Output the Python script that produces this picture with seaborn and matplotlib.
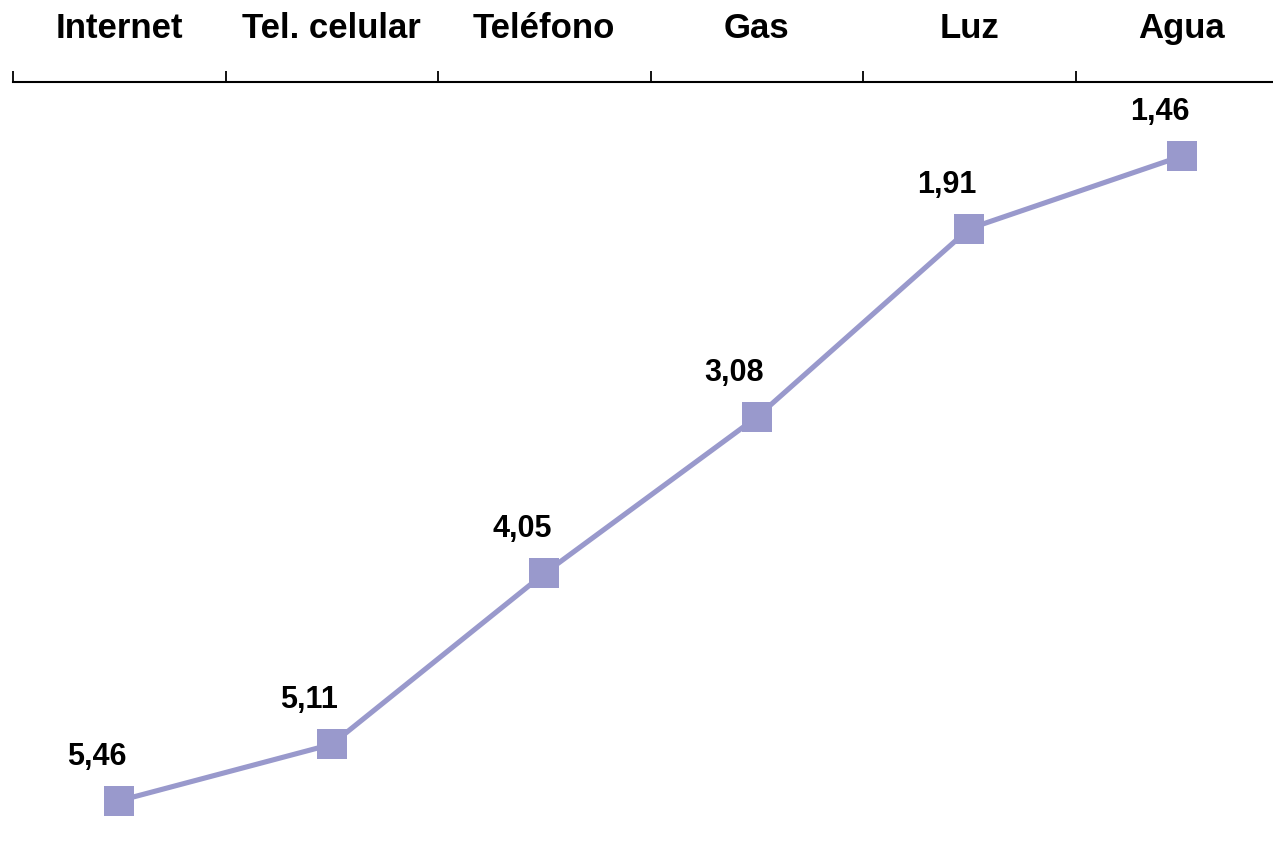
import matplotlib
matplotlib.use("Agg")
import matplotlib.pyplot as plt
import seaborn as sns
import pandas as pd
import numpy as np
from matplotlib.ticker import FixedLocator

categories = ["Internet", "Tel. celular", "Teléfono", "Gas", "Luz", "Agua"]
values = [5.46, 5.11, 4.05, 3.08, 1.91, 1.46]
labels = ["5,46", "5,11", "4,05", "3,08", "1,91", "1,46"]

sns.set_theme(style="white")
plt.rcParams['font.family'] = ['Liberation Sans', 'DejaVu Sans']

df = pd.DataFrame({"cat": categories, "val": values, "x": np.arange(len(categories))})

fig = plt.figure(figsize=(12.73, 8.41), dpi=100)
W, H = 1273, 841
ax = fig.add_axes([13 / W, 0, 1275 / W, 759 / H])

color = "#9999CC"
sns.lineplot(data=df, x="x", y="val", ax=ax, color=color, linewidth=3.7,
             marker="s", markersize=21, markeredgewidth=0, clip_on=False)

ax.set_xlim(-0.5, len(categories) - 0.5)
ax.set_ylim(5.71, 1.0)

ax.xaxis.tick_top()
ax.set_xticks(df["x"])
ax.set_xticklabels(categories, fontsize=25, fontweight="bold", color="black")
ax.xaxis.set_minor_locator(FixedLocator(np.arange(-0.5, len(categories), 1.0)))
ax.tick_params(axis="x", which="major", length=0, pad=26.5, top=True, bottom=False,
               labelcolor="black")
ax.tick_params(axis="x", which="minor", length=8, width=1.3, color="black",
               direction="out", top=True, bottom=False)
ax.set_yticks([])
ax.set_xlabel("")
ax.set_ylabel("")

for s in ["left", "right", "bottom"]:
    ax.spines[s].set_visible(False)
ax.spines["top"].set_color("black")
ax.spines["top"].set_linewidth(1.5)

for xi, v, lab in zip(df["x"], values, labels):
    ax.annotate(lab, (xi, v), xytext=(-16, 26), textcoords="offset points",
                ha="center", va="baseline", fontsize=22, fontweight="bold",
                color="black")

fig.savefig("out.png", dpi=100)
